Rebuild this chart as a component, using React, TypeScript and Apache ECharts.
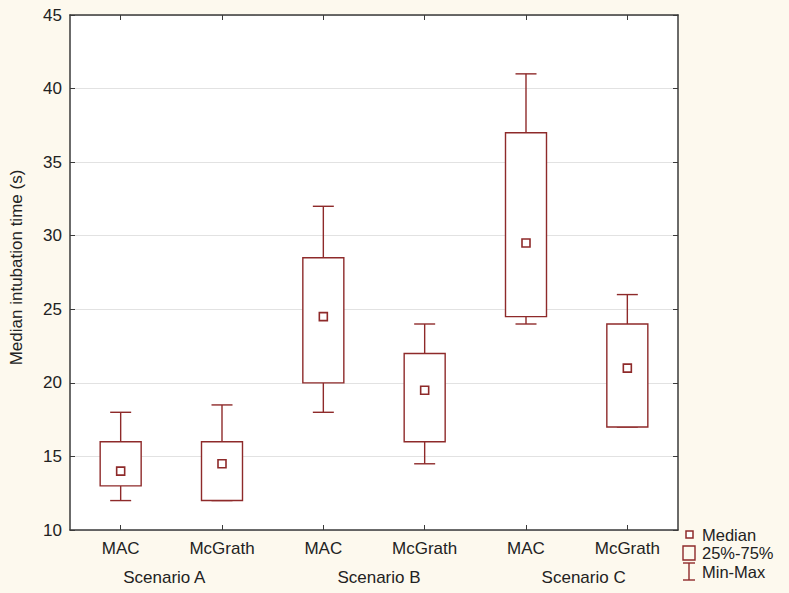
import React, { useEffect, useRef } from "react";
import * as echarts from "echarts";

const categories = ["MAC", "McGrath", "MAC", "McGrath", "MAC", "McGrath"];
const scenarios = ["Scenario A", "Scenario B", "Scenario C"];
const mins = [12, 12, 18, 14.5, 24, 17];
const q1s = [13, 12, 20, 16, 24.5, 17];
const medians = [14, 14.5, 24.5, 19.5, 29.5, 21];
const q3s = [16, 16, 28.5, 22, 37, 24];
const maxs = [18, 18.5, 32, 24, 41, 26];
const legendLabels = ["Median", "25%-75%", "Min-Max"];
const yAxisName = "Median intubation time (s)";
const yMin = 10;
const yMax = 45;
const yInterval = 5;

const BOX = "#8E2A2A";
const FONT = "Liberation Sans, Arial, sans-serif";
const AXIS = "#3a3a3a";
const FS = 17;

export default function App() {
  const ref = useRef<HTMLDivElement>(null);
  useEffect(() => {
    if (!ref.current) return;
    const chart = echarts.init(ref.current, undefined, { renderer: "svg" });
    const data = categories.map((_, i) => [i, mins[i], q1s[i], medians[i], q3s[i], maxs[i]]);
    const scenStyle = { fontSize: FS, fontFamily: FONT, color: "#222" };
    const option: any = {
      animation: false,
      backgroundColor: "#FDF9EE",
      textStyle: { fontFamily: FONT },
      grid: {
        left: 63,
        right: 111,
        top: 15,
        bottom: 63,
        show: true,
        backgroundColor: "#ffffff",
        borderWidth: 0,
      },
      xAxis: [
        {
          type: "category",
          data: categories,
          position: "bottom",
          boundaryGap: true,
          axisLine: { show: true, lineStyle: { color: AXIS, width: 1.5 } },
          axisTick: { show: true, inside: true, alignWithLabel: true, length: 5, lineStyle: { color: AXIS } },
          axisLabel: { color: "#222", fontSize: FS, fontFamily: FONT, margin: 10 },
        },
        {
          type: "category",
          data: scenarios,
          position: "bottom",
          offset: 29,
          boundaryGap: true,
          axisLine: { show: false },
          axisTick: { show: false },
          axisLabel: {
            color: "#222",
            fontSize: FS,
            fontFamily: FONT,
            margin: 10,
            formatter: (v: string, i: number) => `{s${i}|${v}}`,
            rich: {
              s0: { ...scenStyle, padding: [0, 14, 0, 0] },
              s1: { ...scenStyle, padding: [0, 0, 0, 10] },
              s2: { ...scenStyle, padding: [0, 0, 0, 14] },
            },
          },
        },
        {
          type: "category",
          data: categories,
          position: "top",
          boundaryGap: true,
          axisLine: { show: true, lineStyle: { color: AXIS, width: 1.5 } },
          axisTick: { show: true, inside: true, alignWithLabel: true, length: 5, lineStyle: { color: AXIS } },
          axisLabel: { show: false },
        },
      ],
      yAxis: [
        {
          type: "value",
          min: yMin,
          max: yMax,
          interval: yInterval,
          position: "left",
          name: yAxisName,
          nameLocation: "middle",
          nameRotate: 90,
          nameGap: 45,
          nameTextStyle: { color: "#222", fontSize: FS, fontFamily: FONT, padding: [0, 0, 0, 10] },
          axisLine: { show: true, lineStyle: { color: AXIS, width: 1.5 } },
          axisTick: { show: true, inside: true, length: 5, lineStyle: { color: AXIS } },
          axisLabel: { color: "#222", fontSize: FS, fontFamily: FONT, margin: 8 },
          splitLine: { show: true, lineStyle: { color: "#e2e2e2", width: 1 } },
        },
        {
          type: "value",
          min: yMin,
          max: yMax,
          interval: yInterval,
          position: "right",
          axisLine: { show: true, lineStyle: { color: AXIS, width: 1.5 } },
          axisTick: { show: true, inside: true, length: 5, lineStyle: { color: AXIS } },
          axisLabel: { show: false },
          splitLine: { show: false },
        },
      ],
      series: [
        {
          type: "custom",
          xAxisIndex: 0,
          yAxisIndex: 0,
          data,
          encode: { x: 0, y: [1, 2, 3, 4, 5] },
          renderItem: (params: any, api: any) => {
            const x = api.value(0);
            const pMin = api.coord([x, api.value(1)]);
            const pQ1 = api.coord([x, api.value(2)]);
            const pMed = api.coord([x, api.value(3)]);
            const pQ3 = api.coord([x, api.value(4)]);
            const pMax = api.coord([x, api.value(5)]);
            const cx = pMed[0];
            const bw = 41;
            const cw = 21;
            const ms = 8;
            const ls = { stroke: BOX, lineWidth: 1.4, fill: null };
            return {
              type: "group",
              children: [
                { type: "line", shape: { x1: cx, y1: pMax[1], x2: cx, y2: pQ3[1] }, style: ls },
                { type: "line", shape: { x1: cx, y1: pQ1[1], x2: cx, y2: pMin[1] }, style: ls },
                { type: "line", shape: { x1: cx - cw / 2, y1: pMax[1], x2: cx + cw / 2, y2: pMax[1] }, style: ls },
                { type: "line", shape: { x1: cx - cw / 2, y1: pMin[1], x2: cx + cw / 2, y2: pMin[1] }, style: ls },
                {
                  type: "rect",
                  shape: { x: cx - bw / 2, y: pQ3[1], width: bw, height: pQ1[1] - pQ3[1] },
                  style: { stroke: BOX, lineWidth: 1.4, fill: "#ffffff" },
                },
                {
                  type: "rect",
                  shape: { x: cx - ms / 2, y: pMed[1] - ms / 2, width: ms, height: ms },
                  style: { stroke: BOX, lineWidth: 1.6, fill: "#ffffff" },
                },
              ],
            };
          },
        },
      ],
      graphic: [
        { type: "rect", shape: { x: 686, y: 531, width: 7, height: 7 }, style: { stroke: BOX, lineWidth: 1.5, fill: "#ffffff" } },
        { type: "rect", shape: { x: 683, y: 546, width: 12, height: 14 }, style: { stroke: BOX, lineWidth: 1.4, fill: null } },
        { type: "line", shape: { x1: 683, y1: 563, x2: 695, y2: 563 }, style: { stroke: BOX, lineWidth: 1.4 } },
        { type: "line", shape: { x1: 689, y1: 563, x2: 689, y2: 580 }, style: { stroke: BOX, lineWidth: 1.4 } },
        { type: "line", shape: { x1: 683, y1: 580, x2: 695, y2: 580 }, style: { stroke: BOX, lineWidth: 1.4 } },
        ...legendLabels.map((t, i) => ({
          type: "text",
          x: 702,
          y: [535, 553, 572][i],
          style: { text: t, fill: "#222", font: `16.5px ${FONT}`, textVerticalAlign: "middle", textAlign: "left" },
        })),
      ],
    };
    chart.setOption(option);
    return () => chart.dispose();
  }, []);
  return <div ref={ref} style={{ position: "fixed", left: 0, top: 0, width: 789, height: 593 }} />;
}
